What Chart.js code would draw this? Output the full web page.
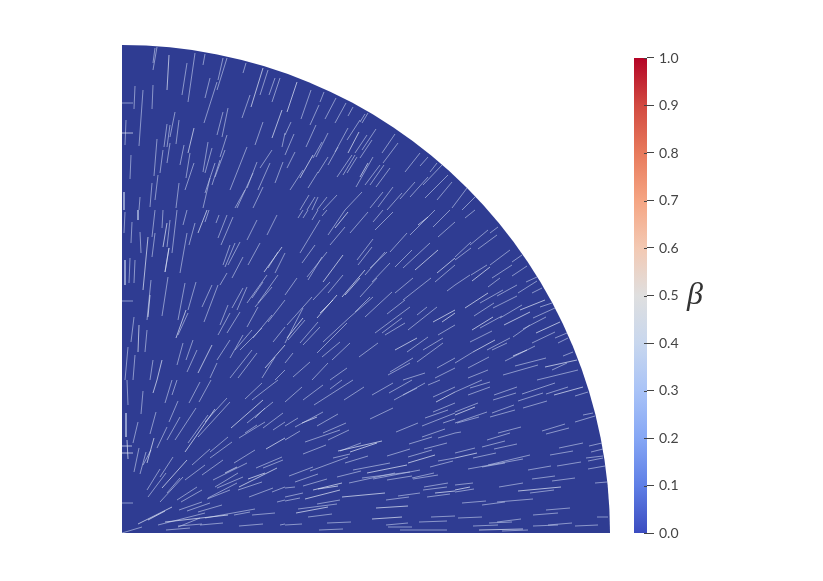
<!DOCTYPE html>
<html>
<head>
<meta charset="utf-8">
<style>
  html, body { margin: 0; padding: 0; background: #fff; }
  canvas { display: block; }
</style>
<script src="https://cdn.jsdelivr.net/npm/chart.js@4"></script>
</head>
<body>
<canvas id="grafico" width="823" height="581"></canvas>
<script>
// domain size, same units as the streak lists
const discRadius = 488;
const barValues = [0, 1];
const barTicks = [0, 0.1, 0.2, 0.3, 0.4, 0.5, 0.6, 0.7, 0.8, 0.9, 1];
const barStops = [0, 0.1, 0.2, 0.3, 0.4, 0.5, 0.6, 0.7, 0.8, 0.9, 1];
const barColors = ["#3b4cc0", "#5f7fe6", "#86a7f5", "#a9c3f7", "#c8d7ee", "#dfdfdf", "#f3c9b3", "#f5a583", "#e87a5c", "#d24a41", "#b40426"];

// x1, y1, x2, y2 of the faint fibres
const streaks = [
  [35,486,31,463],[33,485,31,470],[65,470,60,438],[73,480,66,431],[83,479,81,468],[105,475,95,443],[101,475,96,453],
  [124,470,121,460],[88,455,83,435],[95,451,82,410],[146,463,138,438],[153,455,147,438],[158,455,150,431],[128,438,120,415],
  [13,447,12,424],[21,443,17,387],[31,448,30,424],[0,430,11,430],[4,413,3,388],[53,421,48,396],[57,413,54,389],[45,409,42,386],
  [48,408,45,386],[106,425,100,396],[101,421,95,398],[141,411,133,388],[163,400,160,386],[35,394,32,357],[41,383,38,360],
  [48,390,45,370],[62,388,58,368],[68,380,64,355],[86,391,81,361],[90,385,83,360],[105,398,98,376],[125,386,108,343],
  [103,383,93,356],[98,373,90,348],[93,370,83,340],[9,378,8,354],[72,370,63,343],[57,350,54,325],[36,358,33,333],[30,350,28,326],
  [2,341,2,323],[18,336,17,323],[150,383,138,365],[148,370,136,343],[135,371,125,345],[161,371,153,350],[131,360,115,325],
  [123,343,113,325],[141,346,131,325],[88,355,81,325],
  [189,443,179,414],[202,441,198,431],[197,428,188,408],[214,435,203,414],[224,430,213,410],[231,426,226,417],[246,420,240,410],
  [243,419,238,411],[238,413,225,393],[194,408,184,386],[206,400,194,376],[226,405,213,381],[169,411,163,398],[172,399,163,378],
  [254,404,240,383],[245,398,233,380],[273,399,260,380],[276,390,261,370],[250,393,238,375],[200,391,191,375],[216,386,206,368],
  [173,381,165,365],[181,363,168,343],[206,376,196,360],[196,361,186,345],[230,378,215,356],[233,378,221,358],[235,376,225,360],
  [251,376,234,346],[262,368,248,348],[268,365,254,346],[258,368,243,348],[298,380,283,361],[306,376,298,367],[315,370,308,361],
  [320,368,301,348],[326,358,303,335],[330,351,315,333],[293,351,278,334],[306,356,288,336],[240,341,223,323],[215,338,201,323],
  [261,341,248,325],[271,346,256,326],[280,340,265,323],[205,336,195,323],[196,336,190,323],[193,336,185,323],[187,338,178,323],
  [3,321,2,300],[10,311,9,290],[18,301,19,280],[16,323,16,313],[33,323,30,296],[41,323,40,305],[48,313,45,286],[33,300,30,276],
  [55,323,50,280],[47,285,43,261],[65,300,58,260],[73,310,67,288],[65,323,61,308],[87,323,83,311],[97,318,94,310],[105,318,96,295],
  [111,316,99,288],[135,313,125,293],[155,318,145,298],[3,273,3,248],[8,275,7,250],[13,273,12,250],[46,256,40,217],[29,253,25,213],
  [0,232,11,232],[63,250,56,213],[74,251,66,223],[90,248,80,226],[96,248,82,211],[108,288,101,268],[113,290,103,266],[118,291,106,268],
  [121,276,110,255],[105,260,98,248],[138,290,126,268],[156,281,146,265],[163,280,153,260],[125,246,115,223],[121,245,110,225],
  [145,258,125,230],[141,251,130,235],[156,258,136,230],[150,246,133,226],[163,233,146,211],[136,226,125,206],[106,228,98,208],
  [108,220,96,198],[118,221,105,200],[150,218,131,195],[163,206,151,191],[66,220,56,198],[12,216,9,191],[25,203,23,181],[6,186,3,153],
  [13,178,11,153],[61,190,55,168],[71,193,64,173],[75,183,65,161],[95,170,88,155],[108,193,95,173],[121,198,108,175],[130,203,113,183],
  [140,205,118,183],[135,180,116,155],[130,183,108,155],[153,176,140,155],[163,163,153,153],[31,173,28,153],
  [181,323,176,315],[186,323,181,315],[196,323,190,313],[205,323,200,317],[223,323,206,298],[246,321,228,300],[261,323,251,311],
  [271,321,253,303],[198,313,178,280],[193,288,180,270],[223,306,208,288],[205,281,185,256],[200,276,186,253],[175,255,163,238],
  [251,294,235,273],[250,286,236,268],[285,300,268,281],[265,281,248,265],[263,281,243,258],[268,270,250,251],[313,323,288,298],
  [328,323,311,306],[333,311,316,296],[290,283,273,266],[308,290,281,265],[333,268,313,251],[333,248,325,242],[255,255,238,236],
  [208,251,191,233],[221,258,206,240],[190,236,165,208],[251,236,228,216],[248,236,233,221],[270,241,243,216],[291,255,273,240],
  [309,255,281,233],[283,233,265,219],[288,226,253,200],[315,226,286,203],[305,226,295,218],[280,215,260,200],[283,210,263,198],
  [181,225,163,190],[183,213,166,193],[196,211,178,190],[198,206,181,188],[228,216,201,191],[225,210,195,180],[218,191,200,176],
  [228,190,210,173],[256,190,237,176],[306,196,285,181],[333,208,316,198],[321,195,301,183],[321,190,295,171],[171,180,163,170],
  [188,171,171,156],[206,170,190,153],[225,165,208,153],[291,175,268,161],[288,170,266,158],[303,160,281,153],[333,175,315,165],
  [333,165,313,155],
  [353,336,340,323],[345,345,330,325],[353,323,343,315],[366,303,348,288],[375,298,356,284],[376,306,368,300],[349,291,333,276],
  [349,285,333,273],[388,283,368,268],[400,278,390,271],[365,268,349,258],[348,258,333,248],[390,268,370,255],[405,267,390,257],
  [415,256,404,251],[378,255,366,246],[415,252,396,240],[395,248,375,237],[381,243,358,230],[420,245,410,240],[395,237,371,225],
  [372,230,352,217],[430,230,418,226],[433,225,411,215],[400,228,378,215],[380,217,358,205],[424,216,401,204],[408,208,391,196],
  [433,201,410,190],[445,200,433,195],[446,195,436,190],[370,202,348,191],[388,195,365,183],[385,190,370,183],[451,181,441,177],
  [413,187,383,172],[351,181,333,170],[367,176,346,165],[424,175,393,167],[445,170,430,163],[416,168,381,158],[456,163,415,153],
  [366,163,346,155],
  [360,153,333,141],[368,151,348,145],[368,146,346,138],[395,146,372,138],[394,140,371,133],[433,150,400,139],[421,140,396,132],
  [425,132,401,125],[446,146,424,139],[466,141,453,137],[356,130,333,121],[365,121,333,110],[357,116,335,110],[392,128,370,120],
  [393,123,368,116],[471,120,461,118],[473,117,453,111],[399,106,376,100],[388,100,365,93],[443,109,420,102],[447,105,424,99],
  [339,101,333,100],[383,92,360,86],[395,89,372,84],[461,90,437,85],[451,82,428,78],[480,90,467,87],[481,84,469,81],[481,77,464,75],
  [481,75,466,72],[483,67,466,64],[353,85,333,80],[374,80,351,75],[408,78,366,68],[401,74,346,64],[383,70,360,66],[459,71,435,67],
  [429,67,406,63],[433,57,410,54],[453,55,430,52],[401,50,377,46],[432,43,408,40],[351,50,333,48],[352,44,333,41],[485,51,473,50],
  [411,34,375,31],[383,31,360,28],[364,32,340,30],[448,25,424,23],[436,20,411,18],[486,16,475,16],[360,16,336,15],[399,14,375,11],
  [390,11,367,10],[450,10,426,8],[436,8,411,7],[476,8,453,7],[376,8,351,7],[406,3,380,2],
  [180,146,163,131],[201,148,181,133],[220,153,208,144],[231,153,192,128],[242,146,222,133],[271,150,250,138],[290,153,267,140],
  [303,150,272,133],[295,145,281,138],[318,153,306,148],[333,146,311,136],[333,130,311,121],[326,123,303,115],[333,120,300,107],
  [333,114,321,110],[271,125,248,114],[201,121,173,106],[216,119,195,107],[224,110,201,100],[227,103,206,93],[176,115,163,107],
  [178,102,163,93],[204,88,181,79],[218,103,183,91],[296,110,274,101],[323,104,300,96],[333,100,316,95],[310,96,287,89],[325,90,302,84],
  [239,90,218,82],[288,84,265,77],[310,83,286,76],[228,79,211,75],[246,77,223,70],[226,76,188,62],[191,66,167,57],[196,59,173,51],
  [205,54,181,47],[268,70,231,63],[333,75,316,72],[331,72,308,66],[298,63,251,54],[288,61,240,55],[273,60,227,50],[239,62,215,56],
  [290,57,265,53],[312,60,290,55],[316,58,291,54],[173,46,163,45],[181,40,163,36],[178,35,163,32],[298,40,276,37],[287,36,264,33],
  [326,50,302,46],[325,46,301,43],[328,39,305,36],[218,33,195,29],[215,29,176,24],[210,19,186,16],[333,17,309,16],[325,12,297,11],
  [286,10,264,8],[180,9,163,8],[229,11,205,10],[221,4,197,3],[325,3,278,3],[290,6,266,6],
  [5,153,6,128],[21,142,19,119],[50,153,43,130],[55,153,50,138],[78,151,67,130],[89,153,77,131],[56,132,47,111],[34,121,28,99],
  [16,111,11,90],[4,120,4,96],[45,106,35,85],[58,116,45,93],[74,125,53,93],[86,118,66,90],[108,131,76,96],[105,135,83,111],
  [140,150,123,134],[156,153,130,133],[151,131,125,110],[143,125,133,115],[161,120,141,105],[163,111,151,103],[143,111,117,95],
  [135,108,123,100],[29,83,21,68],[17,85,12,61],[24,81,18,59],[110,91,88,75],[106,96,88,81],[88,84,70,68],[83,68,63,53],[51,76,38,56],
  [38,64,25,43],[44,60,26,36],[61,56,38,31],[58,55,45,40],[133,83,112,70],[101,73,80,58],[125,70,91,53],[160,76,134,65],[161,73,141,65],
  [116,60,93,46],[121,56,95,45],[140,51,116,43],[115,50,86,35],[108,43,85,34],[75,46,55,33],[80,43,59,31],[80,31,57,23],[88,30,65,22],
  [100,28,76,21],[151,45,127,36],[163,46,150,41],[163,33,155,31],[0,30,11,30],[20,6,0,0],[133,24,83,15],[83,20,36,8],[128,21,112,18],
  [153,20,130,18],[78,15,56,6],[101,10,78,8],[80,9,56,7],[68,5,44,3],[141,9,117,7],[163,9,158,8]
];

// the ones that show up brighter, usually bundles of fibres
const brightStreaks = [
  [47,478,45,443],[141,465,129,426],[0,400,11,400],[72,405,66,380],[160,423,150,395],[175,451,165,421],[237,401,226,380],
  [191,378,178,355],[246,370,238,356],[26,296,21,243],[45,310,41,286],[47,285,43,261],[85,323,76,300],[160,286,142,261],
  [28,238,26,216],[64,223,54,195],[17,208,16,181],[90,188,76,160],[163,188,143,165],[40,173,35,153],
  [226,321,213,305],[221,278,201,251],[306,316,296,308],[316,283,293,263],[333,275,315,260],[243,263,220,236],[238,255,223,238],
  [215,238,195,215],[211,233,198,220],[333,223,311,211],[333,220,320,211],[295,195,273,183],[181,215,165,195],
  [368,266,350,252],[366,240,343,225],[423,233,398,223],[408,221,382,208],[371,216,350,203],[438,211,414,200],[373,193,351,181],
  [405,183,391,177],[455,173,423,166],[461,146,432,138],[353,126,333,118],[355,80,333,75],[439,46,396,42],[348,46,333,43],[401,4,357,3],
  [333,141,314,131],[195,116,180,110],[260,92,216,82],[255,90,228,81],[285,68,245,60],[313,78,286,70],[220,50,191,43],[216,47,196,44],
  [218,43,183,34],[263,40,220,36],[333,42,313,40],[206,26,174,20],[286,27,254,25],[280,16,250,14],
  [35,153,31,140],[93,124,63,81],[141,133,109,105],[163,95,144,84],[32,95,25,70],[0,87,10,87],[0,80,11,80],[5,93,6,74],[65,73,40,45],
  [115,66,103,60],[155,65,117,46],[143,60,126,54],[50,26,16,9],[43,22,26,13],[106,18,43,11]
];

const tituloBarra = "β";

function segmentos(lista) {
  return lista.flatMap(s => [{ x: s[0], y: s[1] }, { x: s[2], y: s[3] }, { x: NaN, y: NaN }]);
}

function gradienteBarra(ctx) {
  const { chart } = ctx;
  const yBar = chart.scales.yBar;
  // options get resolved once before the layout is done
  if (!yBar || !Number.isFinite(yBar.getPixelForValue(0))) return barColors[0];
  const g = chart.ctx.createLinearGradient(0, yBar.getPixelForValue(0), 0, yBar.getPixelForValue(1));
  barStops.forEach((s, i) => g.addColorStop(s, barColors[i]));
  return g;
}

// quarter disc goes under the fibres
const discoPlugin = {
  id: "disco",
  beforeDatasetsDraw(chart) {
    const { ctx, scales } = chart;
    const cx = scales.x.getPixelForValue(0);
    const cy = scales.y.getPixelForValue(0);
    const r = scales.x.getPixelForValue(discRadius) - cx;
    ctx.save();
    ctx.fillStyle = "#2f3c92";
    ctx.beginPath();
    ctx.moveTo(cx, cy);
    ctx.lineTo(cx + r, cy);
    ctx.arc(cx, cy, r, 0, -Math.PI / 2, true);
    ctx.closePath();
    ctx.fill();
    ctx.restore();
  },
  afterDraw(chart) {
    const { ctx, scales } = chart;
    const yBar = scales.yBar;
    ctx.save();
    // tick stubs reach a little into the colour bar
    ctx.strokeStyle = "#444";
    ctx.lineWidth = 1;
    barTicks.forEach(v => {
      const y = Math.round(yBar.getPixelForValue(v)) + 0.5;
      ctx.beginPath();
      ctx.moveTo(yBar.left - 3, y);
      ctx.lineTo(yBar.left, y);
      ctx.stroke();
    });
    ctx.fillStyle = "#333";
    ctx.font = "italic 32px 'Liberation Serif'";
    ctx.textAlign = "center";
    ctx.textBaseline = "middle";
    ctx.fillText(tituloBarra, yBar.left + 48, yBar.getPixelForValue(0.5));
    ctx.restore();
  }
};

new Chart(document.getElementById("grafico"), {
  type: "scatter",
  data: {
    datasets: [
      {
        label: "brillantes",
        data: segmentos(brightStreaks),
        showLine: true,
        spanGaps: false,
        pointRadius: 0,
        borderColor: "rgba(222,228,245,0.72)",
        borderWidth: 1
      },
      {
        label: "fibras",
        data: segmentos(streaks),
        showLine: true,
        spanGaps: false,
        pointRadius: 0,
        borderColor: "rgba(186,198,230,0.66)",
        borderWidth: 1
      },
      {
        label: "beta",
        data: barValues.map(v => ({ x: 518.5, y: v })),
        yAxisID: "yBar",
        showLine: true,
        pointRadius: 0,
        borderWidth: 13,
        borderCapStyle: "butt",
        borderColor: gradienteBarra
      }
    ]
  },
  options: {
    responsive: false,
    animation: false,
    events: [],
    layout: { padding: { left: 122, top: 45, bottom: 48, right: 0 } },
    plugins: {
      legend: { display: false },
      tooltip: { enabled: false }
    },
    scales: {
      x: { type: "linear", min: 0, max: 525, display: false },
      y: { type: "linear", min: 0, max: discRadius, display: false },
      yBar: {
        type: "linear",
        position: "right",
        min: 0,
        max: 488 / 475,
        afterFit(scale) { scale.width = 176; },
        afterBuildTicks(scale) { scale.ticks = barTicks.map(v => ({ value: v })); },
        border: { display: false },
        grid: { drawOnChartArea: false, color: "#444", tickLength: 7 },
        ticks: {
          padding: 5,
          color: "#444",
          autoSkip: false,
          font: { family: "Lato", size: 14 },
          callback: v => v.toFixed(1)
        }
      }
    }
  },
  plugins: [discoPlugin]
});
</script>
</body>
</html>
